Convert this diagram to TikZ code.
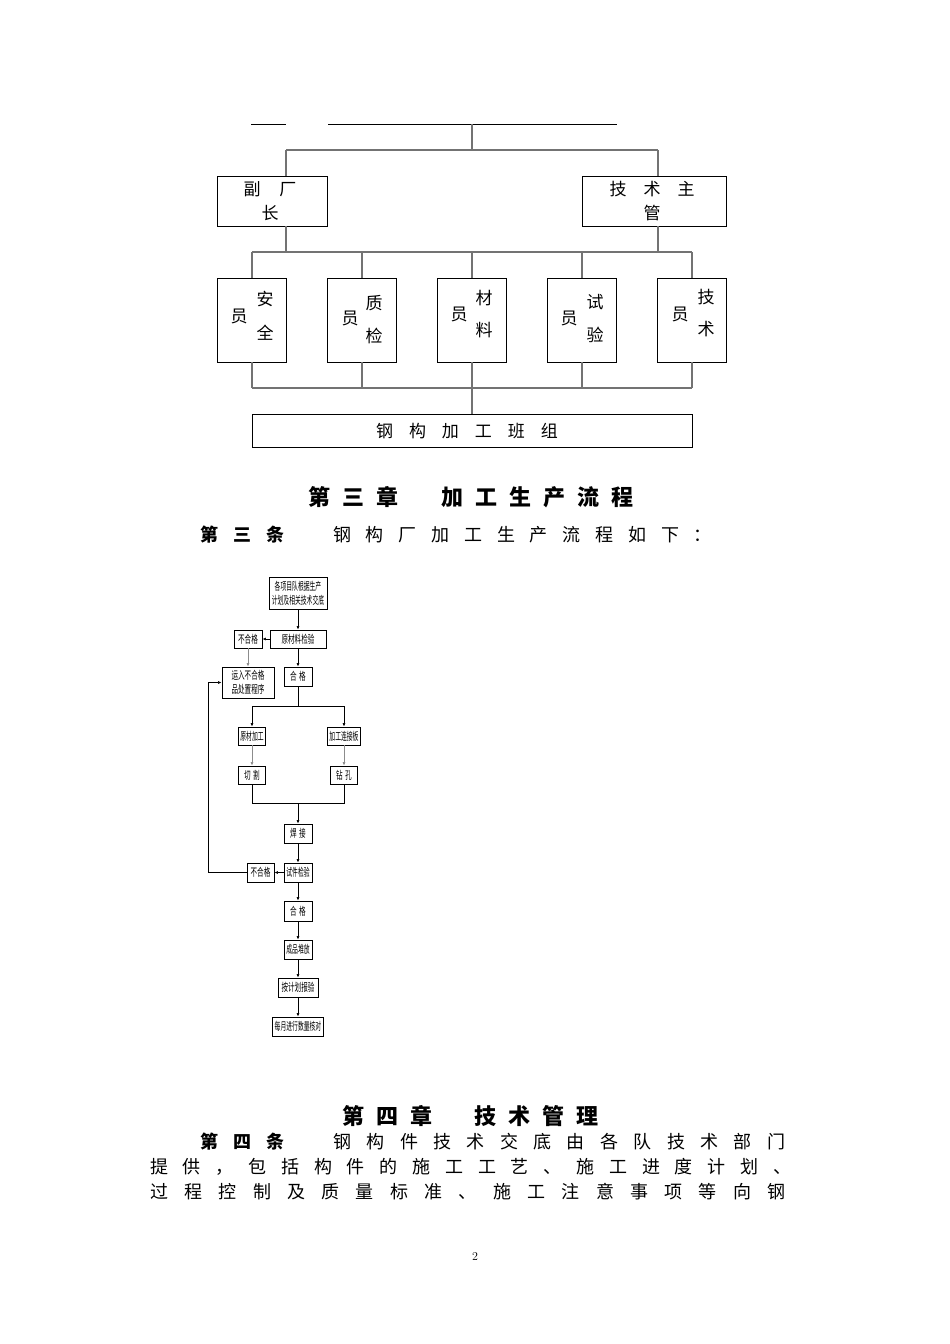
\documentclass[tikz,border=0pt]{standalone}
\usepackage{fontspec}
\newfontfamily\cjk{Noto Sans CJK SC}
\usetikzlibrary{arrows.meta}
\newcommand\sqz[1]{\scalebox{0.6}[1]{#1}}
\newcommand\sqzz[1]{\scalebox{0.53}[1]{#1}}
\newcommand\gapchars[2]{\def\gapcharsgap{#1}\gapcharsloop#2\relax}
\def\gapcharsloop#1{\ifx#1\relax\else#1\expandafter\gapcharsnext\fi}
\def\gapcharsnext#1{\ifx#1\relax\else\hspace{\gapcharsgap}#1\expandafter\gapcharsnext\fi}
\begin{document}
\begin{tikzpicture}[x=1pt,y=-1pt,
  obox/.style={draw=black, line width=0.9pt, inner sep=0pt},
  conn/.style={draw=black!55, line width=1.4pt},
  topline/.style={draw=black, line width=1pt},
  otxt/.style={font=\cjk\fontsize{17}{20}\selectfont, inner sep=0pt},
  htxt/.style={font=\cjk\bfseries\fontsize{22}{24}\selectfont, inner sep=0pt, anchor=west},
  btxt/.style={font=\cjk\fontsize{18}{20}\selectfont, inner sep=0pt, anchor=west},
  bbtxt/.style={font=\cjk\bfseries\fontsize{18}{20}\selectfont, inner sep=0pt, anchor=west},
  fbox/.style={draw=black, line width=0.9pt, inner sep=0pt, align=center, font=\cjk\fontsize{11}{14}\selectfont},
  farr/.style={draw=black, line width=0.6pt, -{Latex[length=3.5pt,width=3pt]}},
  fline/.style={draw=black, line width=0.6pt},
]
\useasboundingbox[fill=white] (0,0) rectangle (950,1344);

% ---------- organisation chart ----------
\draw[topline] (251,124) -- (286,124);
\draw[topline] (328,124) -- (617,124);
\coordinate (root) at (472,124);
\coordinate (hL) at (286,150);
\coordinate (hR) at (658,150);

\node[obox, minimum width=110pt, minimum height=50pt] (fz) at (272,201) {};
\node[obox, minimum width=144pt, minimum height=50pt] (js) at (654,201) {};
\node[otxt] (fzt1) at (270,189) {副\hspace{19pt}厂};
\node[otxt] (fzt2) at (270,213) {长};
\node[otxt] (jst1) at (652,189) {技\hspace{17pt}术\hspace{17pt}主};
\node[otxt] (jst2) at (652,213) {管};

\node[obox, minimum width=69pt, minimum height=84pt] (b1) at (252,320) {};
\node[obox, minimum width=69pt, minimum height=84pt] (b2) at (362,320) {};
\node[obox, minimum width=69pt, minimum height=84pt] (b3) at (472,320) {};
\node[obox, minimum width=69pt, minimum height=84pt] (b4) at (582,320) {};
\node[obox, minimum width=69pt, minimum height=84pt] (b5) at (692,320) {};

\node[otxt] (b1y) at (239,316) {员};
\node[otxt] (b1a) at (265,299) {安};
\node[otxt] (b1b) at (265,333) {全};
\node[otxt] (b2y) at (350,318) {员};
\node[otxt] (b2a) at (374,303) {质};
\node[otxt] (b2b) at (374,336) {检};
\node[otxt] (b3y) at (459,314) {员};
\node[otxt] (b3a) at (484,298) {材};
\node[otxt] (b3b) at (484,330) {料};
\node[otxt] (b4y) at (569,318) {员};
\node[otxt] (b4a) at (595,302) {试};
\node[otxt] (b4b) at (595,335) {验};
\node[otxt] (b5y) at (680,314) {员};
\node[otxt] (b5a) at (706,297) {技};
\node[otxt] (b5b) at (706,329) {术};

\node[obox, minimum width=440pt, minimum height=33pt] (bz) at (472,430.5) {};
\node[otxt] (bzt) at (467,431) {\gapchars{16pt}{钢构加工班组}};

% connectors
\draw[conn] (root) -- (root |- hL);
\draw[conn] (hL) -- (hR);
\draw[conn] (hL) -- (hL |- fz.north);
\draw[conn] (hR) -- (hR |- js.north);
\coordinate (mL) at (252,252);
\coordinate (mR) at (692,252);
\draw[conn] (hL |- fz.south) -- (hL |- mL);
\draw[conn] (hR |- js.south) -- (hR |- mR);
\draw[conn] (mL) -- (mR);
\foreach \b in {b1,b2,b3,b4,b5} { \draw[conn] (\b.north |- mL) -- (\b.north); }
\coordinate (nL) at (252,388);
\coordinate (nR) at (692,388);
\foreach \b in {b1,b2,b3,b4,b5} { \draw[conn] (\b.south) -- (\b.south |- nL); }
\draw[conn] (nL) -- (nR);
\draw[conn] (bz.north |- nL) -- (bz.north);

% ---------- chapter 3 ----------
\node[htxt] (h3a) at (308,497) {\gapchars{12pt}{第三章}};
\node[htxt] (h3b) at (441,497) {\gapchars{12pt}{加工生产流程}};
\node[bbtxt] (t3a) at (200,535) {\gapchars{15pt}{第三条}};
\node[btxt] (t3b) at (333,535) {\gapchars{14.8pt}{钢构厂加工生产流程如下：}};

% ---------- flow chart ----------
\node[fbox, minimum width=58pt, minimum height=32pt] (f1) at (298,593) {\sqzz{各项目队根据生产}\\\sqzz{计划及相关技术交底}};
\node[fbox, minimum width=56pt, minimum height=18pt] (f2) at (298,639) {\sqz{原材料检验}};
\node[fbox, minimum width=28pt, minimum height=18pt] (f3) at (248,639) {\sqz{不合格}};
\node[fbox, minimum width=52pt, minimum height=31pt] (f4) at (248,682.5) {\sqz{运入不合格}\\\sqz{品处置程序}};
\node[fbox, minimum width=28pt, minimum height=19pt] (f5) at (298,676.5) {\sqz{合\hspace{4pt}格}};
\node[fbox, minimum width=27pt, minimum height=18pt] (f6) at (252,736) {\sqzz{原材加工}};
\node[fbox, minimum width=33pt, minimum height=18pt] (f7) at (344,736) {\sqzz{加工连接板}};
\node[fbox, minimum width=27pt, minimum height=18pt] (f8) at (252,775) {\sqz{切\hspace{4pt}割}};
\node[fbox, minimum width=27pt, minimum height=18pt] (f9) at (344,775) {\sqz{钻\hspace{4pt}孔}};
\node[fbox, minimum width=28pt, minimum height=19pt] (f10) at (298,833.5) {\sqz{焊\hspace{4pt}接}};
\node[fbox, minimum width=28pt, minimum height=19pt] (f11) at (298,872.5) {\sqzz{试件检验}};
\node[fbox, minimum width=27pt, minimum height=19pt] (f12) at (260.5,872.5) {\sqz{不合格}};
\node[fbox, minimum width=28pt, minimum height=20pt] (f13) at (298,911) {\sqz{合\hspace{4pt}格}};
\node[fbox, minimum width=28pt, minimum height=19pt] (f14) at (298,949.5) {\sqzz{成品堆放}};
\node[fbox, minimum width=40pt, minimum height=19pt] (f15) at (298,987.5) {\sqz{按计划报验}};
\node[fbox, minimum width=51pt, minimum height=19pt] (f16) at (298,1026.5) {\sqzz{每月进行数量核对}};

\draw[farr] (f1) -- (f2);
\draw[farr] (f2) -- (f3);
\draw[farr, draw=black!45] (f3) -- (f4);
\draw[farr] (f2) -- (f5);
\coordinate (sp) at (298,706);
\coordinate (jn) at (298,803);
\draw[fline] (f5) -- (sp);
\draw[fline] (f6.north |- sp) -- (f7.north |- sp);
\draw[farr] (f6.north |- sp) -- (f6.north);
\draw[farr] (f7.north |- sp) -- (f7.north);
\draw[farr, draw=black!45] (f6) -- (f8);
\draw[farr, draw=black!45] (f7) -- (f9);
\draw[fline] (f8.south) -- (f8.south |- jn) -- (f9.south |- jn) -- (f9.south);
\draw[farr] (jn) -- (f10.north);
\draw[farr] (f10) -- (f11);
\draw[farr] (f11) -- (f12);
\draw[farr] (f11) -- (f13);
\draw[farr] (f13) -- (f14);
\draw[farr] (f14) -- (f15);
\draw[farr] (f15) -- (f16);
\coordinate (lp) at (208,872.5);
\draw[farr] (f12.west) -- (lp) |- (f4.west);

% ---------- chapter 4 ----------
\node[htxt] (h4a) at (342,1116) {\gapchars{12pt}{第四章}};
\node[htxt] (h4b) at (474,1116) {\gapchars{12pt}{技术管理}};
\node[bbtxt] (t4a) at (200,1142) {\gapchars{15pt}{第四条}};
\node[btxt] (t4b) at (333,1142) {\gapchars{15.4pt}{钢构件技术交底由各队技术部门}};
\node[btxt] (t4c) at (150,1167) {\gapchars{14.8pt}{提供，包括构件的施工工艺、施工进度计划、}};
\node[btxt] (t4d) at (150,1192) {\gapchars{16.3pt}{过程控制及质量标准、施工注意事项等向钢}};

\node[font=\fontsize{12}{14}\selectfont, inner sep=0pt] (pg) at (475,1256) {2};
\end{tikzpicture}
\end{document}
